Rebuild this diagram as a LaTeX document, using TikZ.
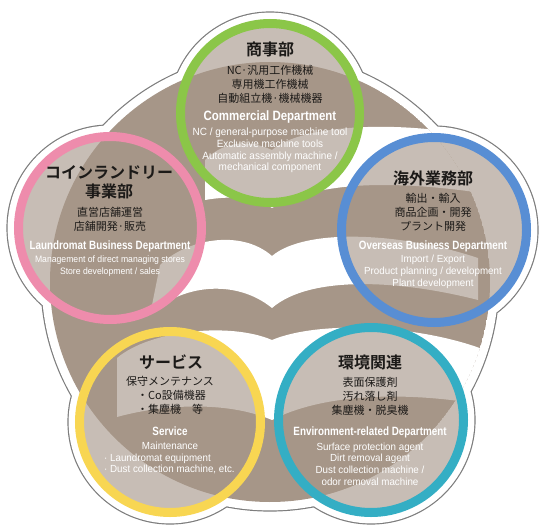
\documentclass[tikz,border=0pt]{standalone}
\usepackage{fontspec}
\setmainfont{Liberation Sans}
\newfontfamily\jpfont[BoldFont={Noto Sans CJK JP Bold}]{Noto Sans CJK JP}
\newfontfamily\enhead[FakeStretch=0.82]{Liberation Sans Bold}
\newfontfamily\enheadg[FakeStretch=0.85]{Liberation Sans Bold}
\newfontfamily\enbody[FakeStretch=0.95]{Liberation Sans}
\newfontfamily\enbodyp[FakeStretch=0.93]{Liberation Sans}
\definecolor{taupe}{RGB}{166,150,136}
\definecolor{ringgreen}{RGB}{139,198,72}
\definecolor{ringpink}{RGB}{238,140,172}
\definecolor{ringblue}{RGB}{88,142,212}
\definecolor{ringyellow}{RGB}{248,214,82}
\definecolor{ringteal}{RGB}{52,174,196}
\definecolor{outl}{RGB}{125,125,125}
\definecolor{jptext}{RGB}{28,26,24}
\tikzset{
  dept/.style={circle, inner sep=0pt, outer sep=0pt, line width=9pt, fill=taupe, fill opacity=0.62, draw opacity=1},
  jh/.style={font=\jpfont\bfseries\fontsize{16}{19}\selectfont, text=jptext, align=center, inner sep=0pt},
  jb/.style={font=\jpfont\fontsize{11}{14}\selectfont, text=jptext, align=center, inner sep=0pt},
  eh/.style={font=\enhead\fontsize{12}{13}\selectfont, text=white, align=center, inner sep=0pt},
  ehg/.style={font=\enheadg\fontsize{13.5}{14}\selectfont, text=white, align=center, inner sep=0pt},
  eb/.style={font=\enbody\fontsize{10.3}{11.7}\selectfont, text=white, align=center, inner sep=0pt},
  ebg/.style={font=\enbody\fontsize{10.5}{11.8}\selectfont, text=white, align=center, inner sep=0pt},
  ebp/.style={font=\enbodyp\fontsize{9.3}{12}\selectfont, text=white, align=center, inner sep=0pt},
}
\begin{document}
\begin{tikzpicture}[x=1pt,y=-1pt]
\useasboundingbox (0,0) rectangle (540,529);
% outer outline of the flower shape
\fill[outl] (270,282) circle[radius=229.6pt] (270,113) circle[radius=101.6pt]
  (110,228) circle[radius=103.6pt] (434,230) circle[radius=104.6pt]
  (170,422) circle[radius=102.6pt] (371,420) circle[radius=104.6pt];
\fill[white] (270,282) circle[radius=228.4pt] (270,113) circle[radius=100.4pt]
  (110,228) circle[radius=102.4pt] (434,230) circle[radius=103.4pt]
  (170,422) circle[radius=101.4pt] (371,420) circle[radius=103.4pt];
% brown disk with white open-book bands
\begin{scope}
\clip (270,282) circle[radius=220pt];
\fill[taupe] (270,282) circle[radius=220pt];
\fill[white] (205,160) .. controls (225,140) and (250,140) .. (272,150)
  .. controls (300,125) and (400,118) .. (495,140) -- (495,195)
  .. controls (400,180) and (320,180) .. (272,208)
  .. controls (255,196) and (228,196) .. (205,200) -- cycle;
\fill[white] (160,265) .. controls (185,240) and (240,228) .. (272,256)
  .. controls (305,228) and (400,232) .. (478,258) -- (478,300)
  .. controls (400,280) and (310,275) .. (272,308)
  .. controls (235,278) and (180,285) .. (150,315) -- cycle;
\fill[white] (117,358) .. controls (150,330) and (230,322) .. (272,340)
  .. controls (320,320) and (420,325) .. (485,350) -- (485,405)
  .. controls (400,390) and (320,395) .. (272,420)
  .. controls (225,400) and (160,405) .. (117,417) -- cycle;
\end{scope}
% department circles
\node[dept, draw=ringgreen,  minimum size=179pt] (green)  at (270,113) {};
\node[dept, draw=ringpink,   minimum size=183pt] (pink)   at (110,228) {};
\node[dept, draw=ringblue,   minimum size=185pt] (blue)   at (434,230) {};
\node[dept, draw=ringyellow, minimum size=181pt] (yellow) at (170,422) {};
\node[dept, draw=ringteal,   minimum size=185pt] (teal)   at (371,420) {};
% green
\node[jh] (gjh) at (270,49) {商事部};
\node[jb] (gjb) at (270,84) {NC·汎用工作機械\\専用機工作機械\\自動組立機·機械機器};
\node[ehg] (geh) at (270,117) {Commercial Department};
\node[ebg] (geb) at (270,150.5) {NC / general-purpose machine tool\\Exclusive machine tools\\Automatic assembly machine /\\mechanical component};
% pink
\node[jh] (pjh) at (109,182.5) {コインランドリー\\事業部};
\node[jb] (pjb) at (110,219.5) {直営店舗運営\\店舗開発·販売};
\node[eh] (peh) at (110,246) {Laundromat Business Department};
\node[ebp] (peb) at (110,266) {Management of direct managing stores\\Store development / sales};
% blue
\node[jh] (bjh) at (433,178) {海外業務部};
\node[jb] (bjb) at (433,212) {輸出・輸入\\商品企画・開発\\プラント開発};
\node[eh] (beh) at (433,246) {Overseas Business Department};
\node[eb] (beb) at (433,272) {Import / Export\\Product planning / development\\Plant development};
% yellow
\node[jh] (yjh) at (171,362) {サービス};
\node[jb] (yjb1) at (170,381) {保守メンテナンス};
\node[jb, anchor=west, align=left] (yjb2) at (137,402) {・Co設備機器\\・集塵機　等};
\node[eh] (yeh) at (170,431) {Service};
\node[eb] (yeb1) at (170,446) {Maintenance};
\node[eb, anchor=west, align=left] (yeb2) at (104,464) {· Laundromat equipment\\· Dust collection machine, etc.};
% teal
\node[jh] (tjh) at (370,362) {環境関連};
\node[jb] (tjb) at (370,396) {表面保護剤\\汚れ落し剤\\集塵機・脱臭機};
\node[eh] (teh) at (370,432) {Environment-related Department};
\node[eb] (teb) at (370,464) {Surface protection agent\\Dirt removal agent\\Dust collection machine /\\odor removal machine};
\end{tikzpicture}
\end{document}
